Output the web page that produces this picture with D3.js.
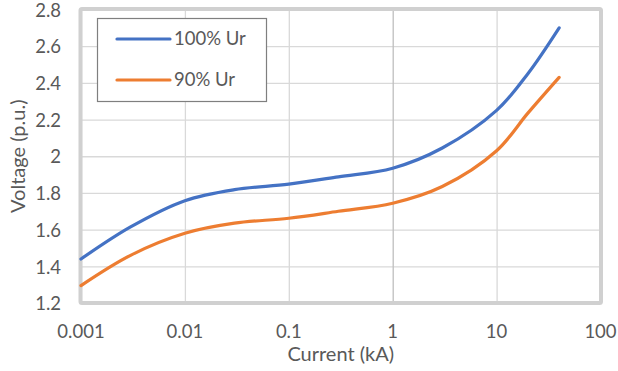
<!DOCTYPE html>
<html>
<head>
<meta charset="utf-8">
<script src="https://cdn.jsdelivr.net/npm/d3@7"></script>
<style>
  html, body { margin: 0; padding: 0; background: #fff; }
  svg { display: block; font-family: Lato, "Open Sans", sans-serif; }
</style>
</head>
<body>
<svg id="chart" width="618" height="371"></svg>
<script>
// Current in kA (log axis) and per-unit voltage of the two characteristics
const currentKA = [0.001, 0.003, 0.01, 0.03, 0.1, 0.3, 1, 3, 10, 20, 40];
const voltage100 = [1.44, 1.615, 1.758, 1.818, 1.848, 1.888, 1.935, 2.045, 2.25, 2.45, 2.70];
const voltage90  = [1.295, 1.46, 1.58, 1.635, 1.662, 1.70, 1.744, 1.835, 2.03, 2.235, 2.43];
const seriesNames = ["100% Ur", "90% Ur"];
const seriesColors = ["#4472C4", "#ED7D31"];
const xTicks = [0.001, 0.01, 0.1, 1, 10, 100];
const xTickLabels = ["0.001", "0.01", "0.1", "1", "10", "100"];
const yTicks = [1.2, 1.4, 1.6, 1.8, 2.0, 2.2, 2.4, 2.6, 2.8];
const yTickLabels = ["1.2", "1.4", "1.6", "1.8", "2", "2.2", "2.4", "2.6", "2.8"];

const svg = d3.select("#chart");
const plot = { left: 81, right: 600.5, top: 9.5, bottom: 303 };
const textColor = "#595959";
const tickFont = 18.5;
const titleFont = 20;

const x = d3.scaleLog().domain([0.001, 100]).range([plot.left, plot.right]);
const y = d3.scaleLinear().domain([1.2, 2.8]).range([plot.bottom, plot.top]);

// horizontal gridlines
svg.append("g")
  .attr("transform", `translate(${plot.left},0)`)
  .call(d3.axisLeft(y).tickValues(yTicks).tickSize(-(plot.right - plot.left)).tickFormat(""))
  .call(g => g.select(".domain").remove())
  .call(g => g.selectAll("line").attr("stroke", "#d9d9d9").attr("stroke-width", 1.3));

// vertical gridlines; the value axis crosses at 1 kA and is drawn darker
svg.append("g")
  .attr("transform", `translate(0,${plot.bottom})`)
  .call(d3.axisBottom(x).tickValues(xTicks).tickSize(-(plot.bottom - plot.top)).tickFormat(""))
  .call(g => g.select(".domain").remove())
  .call(g => g.selectAll("line")
    .attr("stroke", d => d === 1 ? "#bfbfbf" : "#d9d9d9")
    .attr("stroke-width", 1.3));

// plot area frame
svg.append("rect")
  .attr("x", plot.left - 0.5).attr("y", plot.top - 0.5)
  .attr("width", plot.right - plot.left + 1).attr("height", plot.bottom - plot.top + 0.5)
  .attr("fill", "none").attr("stroke", "#d0d0d0").attr("stroke-width", 4)
  .attr("rx", 1.5);

// y tick labels
svg.append("g")
  .selectAll("text")
  .data(yTicks)
  .join("text")
  .attr("x", 61)
  .attr("y", d => y(d) + 2.5)
  .attr("text-anchor", "end")
  .attr("dominant-baseline", "middle")
  .attr("fill", textColor)
  .attr("font-size", tickFont)
  .text((d, i) => yTickLabels[i]);

// x tick labels
svg.append("g")
  .selectAll("text")
  .data(xTicks)
  .join("text")
  .attr("x", d => x(d))
  .attr("y", 337.5)
  .attr("text-anchor", "middle")
  .attr("fill", textColor)
  .attr("font-size", tickFont)
  .text((d, i) => xTickLabels[i]);

// axis titles
svg.append("text")
  .attr("x", (plot.left + plot.right) / 2)
  .attr("y", 361)
  .attr("text-anchor", "middle")
  .attr("fill", textColor)
  .attr("font-size", titleFont)
  .text("Current (kA)");

svg.append("text")
  .attr("transform", `translate(25,${(plot.top + plot.bottom) / 2}) rotate(-90)`)
  .attr("text-anchor", "middle")
  .attr("fill", textColor)
  .attr("font-size", titleFont)
  .text("Voltage (p.u.)");

// series lines
const line = d3.line()
  .x(d => x(d[0]))
  .y(d => y(d[1]))
  .curve(d3.curveCatmullRom.alpha(0.5));

[voltage100, voltage90].forEach((vals, i) => {
  svg.append("path")
    .datum(currentKA.map((c, j) => [c, vals[j]]))
    .attr("fill", "none")
    .attr("stroke", seriesColors[i])
    .attr("stroke-width", 3.2)
    .attr("stroke-linecap", "round")
    .attr("stroke-linejoin", "round")
    .attr("d", line);
});

// legend
const legend = svg.append("g");
legend.append("rect")
  .attr("x", 97.5).attr("y", 18.5).attr("width", 169).attr("height", 83)
  .attr("fill", "#fff").attr("stroke", "#7f7f7f").attr("stroke-width", 1.2);
seriesNames.forEach((name, i) => {
  const ly = 39 + i * 41;
  legend.append("line")
    .attr("x1", 117).attr("x2", 170).attr("y1", ly).attr("y2", ly)
    .attr("stroke", seriesColors[i]).attr("stroke-width", 3.2)
    .attr("stroke-linecap", "round");
  legend.append("text")
    .attr("x", 174).attr("y", ly + 1)
    .attr("dominant-baseline", "middle")
    .attr("fill", textColor)
    .attr("font-size", tickFont)
    .text(name);
});
</script>
</body>
</html>
